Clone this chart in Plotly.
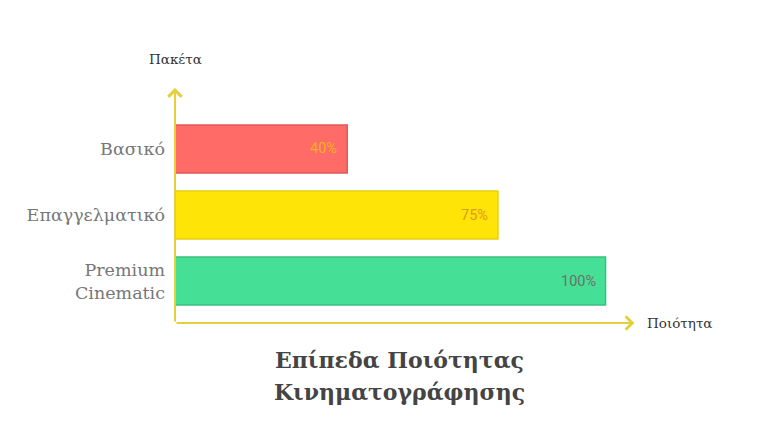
import plotly.graph_objects as go

categories = ["Premium<br>Cinematic", "Επαγγελματικό", "Βασικό"]
values = [100, 75, 40]
bar_colors = ["#45e095", "#ffe407", "#ff6b66"]
border_colors = ["#3bbf80", "#e8cf10", "#e05a56"]
text_colors = ["#6e6e6e", "#e09a1a", "#f5b21a"]
labels = [f"{v}%" for v in values]
title_lines = ["Επίπεδα Ποιότητας", "Κινηματογράφησης"]

axis_color = "#e6cf3c"
serif = "DejaVu Serif"

fig = go.Figure()
fig.add_trace(go.Bar(
    y=list(range(len(categories))), x=values, orientation="h",
    marker=dict(color=bar_colors, line=dict(color=border_colors, width=1.5)),
    width=0.727, hoverinfo="skip",
))

# value labels inside bar ends
for i, (v, t, c) in enumerate(zip(values, labels, text_colors)):
    fig.add_annotation(x=v, y=i, xref="x", yref="y", text=t, showarrow=False,
                       xanchor="right", xshift=-8,
                       font=dict(family="Roboto", size=14.5, color=c))

x_max = 108
y_lo, y_hi = -0.636, 2.924
# y axis arrow
fig.add_annotation(x=0, y=y_hi, ax=0, ay=y_lo, xref="x", yref="y", axref="x", ayref="y",
                   text="", showarrow=True, arrowhead=4, arrowsize=1.3, arrowwidth=2,
                   arrowcolor=axis_color)
# x axis arrow
fig.add_annotation(x=106.7, y=y_lo, ax=0, ay=y_lo, xref="x", yref="y", axref="x", ayref="y",
                   text="", showarrow=True, arrowhead=4, arrowsize=1.3, arrowwidth=2,
                   arrowcolor=axis_color)

fig.add_annotation(x=0, y=1, xref="x", yref="paper", yshift=29, text="Πακέτα",
                   showarrow=False, xanchor="center", yanchor="middle",
                   font=dict(family=serif, size=13.5, color="#333333"))
fig.add_annotation(x=1, y=0, xref="paper", yref="paper", xshift=5, text="Ποιότητα",
                   showarrow=False, xanchor="left", yanchor="middle",
                   font=dict(family=serif, size=13.5, color="#333333"))

for k, line in enumerate(title_lines):
    fig.add_annotation(x=0.5, y=0, xref="paper", yref="paper", xshift=-8,
                       yshift=-37 - 32 * k,
                       text=f"<b>{line}</b>", showarrow=False,
                       xanchor="center", yanchor="middle",
                       font=dict(family=serif, size=22, color="#444444"))

fig.update_layout(
    width=762, height=421,
    margin=dict(l=167, r=130, t=80, b=106, autoexpand=False),
    paper_bgcolor="white", plot_bgcolor="white",
    showlegend=False,
    xaxis=dict(range=[0, x_max], showgrid=False, zeroline=False, showline=False,
               showticklabels=False, fixedrange=True),
    yaxis=dict(range=[y_lo, y_hi], tickvals=list(range(len(categories))),
               ticktext=categories, showgrid=False, zeroline=False, showline=False,
               ticks="", ticklabelstandoff=9, fixedrange=True,
               tickfont=dict(family=serif, size=17.5, color="#777777")),
)

fig.write_html("out.html")
